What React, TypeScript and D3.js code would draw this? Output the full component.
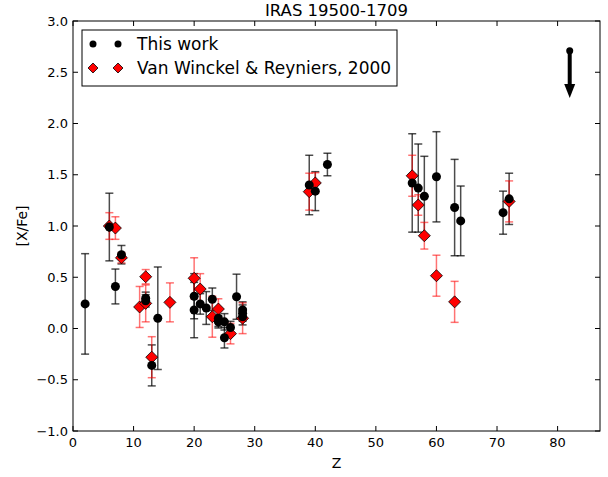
import React from "react";
import * as d3 from "d3";

// This work: Z, value, error
const thisWorkZ = [2, 6, 7, 8, 12, 12, 13, 14, 20, 20, 21, 22, 23, 24, 24, 25, 25, 26, 27, 28, 28, 28, 39, 40, 42, 56, 57, 58, 60, 63, 64, 71, 72];
const thisWorkVal = [0.24, 0.99, 0.41, 0.72, 0.295, 0.27, -0.36, 0.10, 0.315, 0.18, 0.24, 0.20, 0.285, 0.10, 0.065, 0.065, -0.09, 0.01, 0.31, 0.18, 0.15, 0.115, 1.40, 1.34, 1.60, 1.42, 1.37, 1.29, 1.48, 1.18, 1.05, 1.13, 1.265];
const thisWorkErr = [0.49, 0.33, 0.17, 0.09, 0.06, 0.06, 0.2, 0.5, 0.22, 0.27, 0.1, 0.16, 0.11, 0.08, 0.06, 0.08, 0.1, 0.06, 0.22, 0.08, 0.08, 0.08, 0.29, 0.19, 0.11, 0.48, 0.43, 0.39, 0.44, 0.47, 0.34, 0.21, 0.25];

// Van Winckel & Reyniers, 2000
const vwZ = [6, 7, 8, 11, 12, 12, 13, 16, 20, 21, 23, 24, 26, 28, 39, 40, 56, 57, 58, 60, 63, 72];
const vwVal = [1.0, 0.98, 0.69, 0.21, 0.505, 0.245, -0.28, 0.255, 0.49, 0.385, 0.115, 0.19, -0.05, 0.10, 1.335, 1.42, 1.49, 1.205, 0.905, 0.515, 0.26, 1.24];
const vwErr = [0.13, 0.11, 0.05, 0.2, 0.07, 0.18, 0.2, 0.19, 0.2, 0.15, 0.2, 0.1, 0.1, 0.15, 0.18, 0.1, 0.2, 0.1, 0.13, 0.2, 0.2, 0.2];

// Upper limit arrow
const limitZ = [82];
const limitTop = [2.71];
const limitBottom = [2.25];

const xTicks = [0, 10, 20, 30, 40, 50, 60, 70, 80];
const yTicks = [-1.0, -0.5, 0.0, 0.5, 1.0, 1.5, 2.0, 2.5, 3.0];

const W = 608;
const H = 477;
const L = 73, R = 600, T = 21, B = 431;
const FONT = "DejaVu Sans, sans-serif";

export default function App() {
  const x = d3.scaleLinear().domain([0, 87]).range([L, R]);
  const y = d3.scaleLinear().domain([-1, 3]).range([B, T]);
  const cap = 4;
  const tick = 5;
  const fmt = (v: number) => (v < 0 ? "\u2212" + Math.abs(v).toFixed(1) : v.toFixed(1));
  const diamond = (cx: number, cy: number, r: number) =>
    `M${cx},${cy - r}L${cx + r},${cy}L${cx},${cy + r}L${cx - r},${cy}Z`;

  const errBar = (z: number, v: number, e: number, color: string, key: string) => {
    const cx = x(z), y1 = y(v + e), y2 = y(v - e);
    return (
      <g key={key} stroke={color} strokeWidth={1.5}>
        <line x1={cx} x2={cx} y1={y1} y2={y2} />
        <line x1={cx - cap} x2={cx + cap} y1={y1} y2={y1} />
        <line x1={cx - cap} x2={cx + cap} y1={y2} y2={y2} />
      </g>
    );
  };

  return (
    <svg width={W} height={H} style={{ position: "absolute", left: 0, top: 0, background: "#fff" }} fontFamily={FONT}>
      <rect x={0} y={0} width={W} height={H} fill="#fff" />
      {/* error bars */}
      {thisWorkZ.map((z, i) => errBar(z, thisWorkVal[i], thisWorkErr[i], "rgba(0,0,0,0.7)", "be" + i))}
      {vwZ.map((z, i) => errBar(z, vwVal[i], vwErr[i], "rgba(255,0,0,0.55)", "re" + i))}
      {/* red diamonds */}
      {vwZ.map((z, i) => (
        <path key={"rd" + i} d={diamond(x(z), y(vwVal[i]), 6)} fill="#ff0000" stroke="#000" strokeWidth={0.8} />
      ))}
      {/* black circles */}
      {thisWorkZ.map((z, i) => (
        <circle key={"bc" + i} cx={x(z)} cy={y(thisWorkVal[i])} r={4.5} fill="#000" />
      ))}
      {/* upper limit arrow */}
      {limitZ.map((z, i) => {
        const cx = x(z), yt = y(limitTop[i]), yb = y(limitBottom[i]);
        return (
          <g key={"ar" + i}>
            <line x1={cx} x2={cx} y1={yt} y2={yb - 10} stroke="#000" strokeWidth={4} />
            <path d={`M${cx - 5.5},${yb - 14}L${cx + 5.5},${yb - 14}L${cx},${yb}Z`} fill="#000" />
            <circle cx={cx} cy={yt} r={3.5} fill="#000" />
          </g>
        );
      })}
      {/* axes frame */}
      <rect x={L} y={T} width={R - L} height={B - T} fill="none" stroke="#000" strokeWidth={1} />
      {xTicks.map((t) => (
        <g key={"xt" + t}>
          <line x1={x(t)} x2={x(t)} y1={B} y2={B - tick} stroke="#000" />
          <line x1={x(t)} x2={x(t)} y1={T} y2={T + tick} stroke="#000" />
          <text x={x(t)} y={B + 16} fontSize={13} textAnchor="middle">{t}</text>
        </g>
      ))}
      {yTicks.map((t) => (
        <g key={"yt" + t}>
          <line x1={L} x2={L + tick} y1={y(t)} y2={y(t)} stroke="#000" />
          <line x1={R} x2={R - tick} y1={y(t)} y2={y(t)} stroke="#000" />
          <text x={L - 5} y={y(t) + 4.5} fontSize={13} textAnchor="end">{fmt(t)}</text>
        </g>
      ))}
      {/* labels */}
      <text x={(L + R) / 2} y={16} fontSize={16.5} textAnchor="middle">IRAS 19500-1709</text>
      <text x={(L + R) / 2} y={468} fontSize={14} textAnchor="middle">Z</text>
      <text transform={`translate(27,${(T + B) / 2}) rotate(-90)`} fontSize={14} textAnchor="middle">[X/Fe]</text>
      {/* legend */}
      <g>
        <rect x={82} y={30} width={315} height={56} fill="#fff" stroke="#000" strokeWidth={1} />
        <circle cx={93} cy={44} r={3.5} fill="#000" />
        <circle cx={118} cy={44} r={3.5} fill="#000" />
        <text x={137} y={50} fontSize={17}>This work</text>
        <path d={diamond(93, 68, 5)} fill="#ff0000" stroke="#000" strokeWidth={0.8} />
        <path d={diamond(118, 68, 5)} fill="#ff0000" stroke="#000" strokeWidth={0.8} />
        <text x={137} y={74} fontSize={17}>Van Winckel &amp; Reyniers, 2000</text>
      </g>
    </svg>
  );
}
